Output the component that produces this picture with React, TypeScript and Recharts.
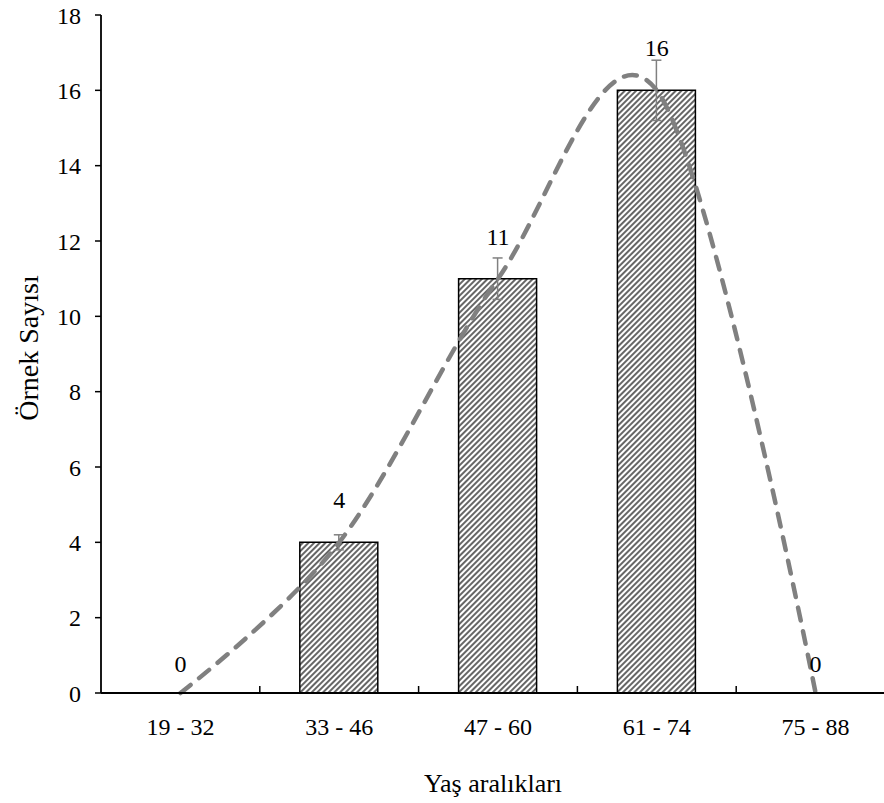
import React from 'react';
import { ComposedChart, Bar, Line, XAxis, YAxis, ErrorBar, LabelList, Label } from 'recharts';

const ageRanges = ['19 - 32', '33 - 46', '47 - 60', '61 - 74', '75 - 88'];
const sampleCounts = [0, 4, 11, 16, 0];
const errorValues = [0, 0.2, 0.55, 0.8, 0];
const yTicks = [0, 2, 4, 6, 8, 10, 12, 14, 16, 18];

const data = ageRanges.map((range, i) => ({ range, count: sampleCounts[i], err: errorValues[i] }));

const FONT = '"Liberation Serif", "Times New Roman", Times, serif';
const X_TICK_SIZE = 8;

// Cardinal spline (tension 0) curve factory, same as d3.curveCardinal (Excel-like smoothing)
function cardinalCurve(context: any) {
  const k = 1 / 6;
  let x0 = NaN, y0 = NaN, x1 = NaN, y1 = NaN, x2 = NaN, y2 = NaN;
  let state = 0;
  let lineFlag: number = NaN;
  const seg = (x: number, y: number) => {
    context.bezierCurveTo(
      x1 + k * (x2 - x0),
      y1 + k * (y2 - y0),
      x2 + k * (x1 - x),
      y2 + k * (y1 - y),
      x2,
      y2
    );
  };
  return {
    areaStart() { lineFlag = 0; },
    areaEnd() { lineFlag = NaN; },
    lineStart() {
      x0 = x1 = x2 = y0 = y1 = y2 = NaN;
      state = 0;
    },
    lineEnd() {
      if (state === 2) context.lineTo(x2, y2);
      else if (state === 3) seg(x1, y1);
      if (lineFlag || (lineFlag !== 0 && state === 1)) context.closePath();
      lineFlag = 1 - lineFlag;
    },
    point(xIn: number, yIn: number) {
      const x = +xIn, y = +yIn;
      if (state === 0) {
        state = 1;
        if (lineFlag) context.lineTo(x, y); else context.moveTo(x, y);
      } else if (state === 1) {
        state = 2;
        x1 = x; y1 = y;
      } else {
        if (state === 2) state = 3;
        seg(x, y);
      }
      x0 = x1; x1 = x2; x2 = x;
      y0 = y1; y1 = y2; y2 = y;
    },
  };
}

const XTick = (props: any) => {
  const { x, y, payload, index } = props;
  const half = payload && typeof payload.offset === 'number' && payload.offset > 0 ? payload.offset : 79.35;
  const axisY = y - X_TICK_SIZE;
  return (
    <g>
      <text x={x} y={y} dy={34} textAnchor="middle" fontFamily={FONT} fontSize={24} fill="#000">
        {payload.value}
      </text>
      {index > 0 && (
        <line x1={x - half} x2={x - half} y1={axisY} y2={axisY - 7} stroke="#000" strokeWidth={1.5} />
      )}
    </g>
  );
};

const ValueLabel = (props: any) => {
  const { x, y, value } = props;
  const off = value === 0 ? 21 : 34;
  return (
    <text x={x} y={y - off} textAnchor="middle" fontFamily={FONT} fontSize={24} fill="#000">
      {value}
    </text>
  );
};

const YTitle = (props: any) => {
  const vb = props.viewBox || { x: 1, y: 15, width: 100, height: 678 };
  const cx = vb.x + 27;
  const cy = vb.y + vb.height / 2 - 6;
  return (
    <text
      x={cx}
      y={cy}
      transform={`rotate(-90 ${cx} ${cy})`}
      textAnchor="middle"
      dominantBaseline="central"
      fontFamily={FONT}
      fontSize={28}
      fill="#000"
    >
      Örnek Sayısı
    </text>
  );
};

const XTitle = (props: any) => {
  const vb = props.viewBox || { x: 101, y: 693, width: 794, height: 60 };
  const cx = vb.x + vb.width / 2 - 5;
  return (
    <text x={cx} y={vb.y + 99} textAnchor="middle" fontFamily={FONT} fontSize={26} fill="#000">
      Yaş aralıkları
    </text>
  );
};

export default function App() {
  return (
    <div
      style={{
        position: 'fixed',
        left: 0,
        top: 0,
        width: 884,
        height: 803,
        overflow: 'hidden',
        background: '#fff',
      }}
    >
      <ComposedChart
        width={900}
        height={803}
        data={data}
        margin={{ top: 15, right: 5, bottom: 50, left: 1 }}
      >
        <defs>
          <pattern
            id="hatch"
            patternUnits="userSpaceOnUse"
            width="4"
            height="4"
            patternTransform="rotate(45)"
          >
            <rect x="0" y="0" width="4" height="4" fill="#fff" />
            <line x1="2" y1="0" x2="2" y2="4" stroke="#000" strokeWidth="1.2" />
          </pattern>
        </defs>
        <XAxis
          dataKey="range"
          interval={0}
          height={60}
          tickSize={X_TICK_SIZE}
          tickMargin={0}
          tickLine={false}
          axisLine={{ stroke: '#000', strokeWidth: 1.8 }}
          tick={<XTick />}
          label={<Label content={<XTitle />} />}
        />
        <YAxis
          type="number"
          domain={[0, 18]}
          ticks={yTicks}
          interval={0}
          width={100}
          tickSize={6}
          tickMargin={14}
          tickLine={{ stroke: '#000', strokeWidth: 1.5 }}
          axisLine={{ stroke: '#000', strokeWidth: 1.8 }}
          tick={{ fill: '#000', fontSize: 24, fontFamily: FONT }}
          label={<Label content={<YTitle />} />}
        />
        <Bar
          dataKey="count"
          barSize={78}
          fill="url(#hatch)"
          stroke="#000"
          strokeWidth={1.5}
          isAnimationActive={false}
        >
          <ErrorBar dataKey="err" width={5} stroke="#808080" strokeWidth={1.5} />
        </Bar>
        <Line
          dataKey="count"
          type={cardinalCurve as any}
          stroke="#808080"
          strokeWidth={4.5}
          strokeDasharray="13 11"
          strokeLinecap="round"
          dot={false}
          activeDot={false}
          isAnimationActive={false}
        >
          <LabelList dataKey="count" content={<ValueLabel />} />
        </Line>
      </ComposedChart>
    </div>
  );
}
